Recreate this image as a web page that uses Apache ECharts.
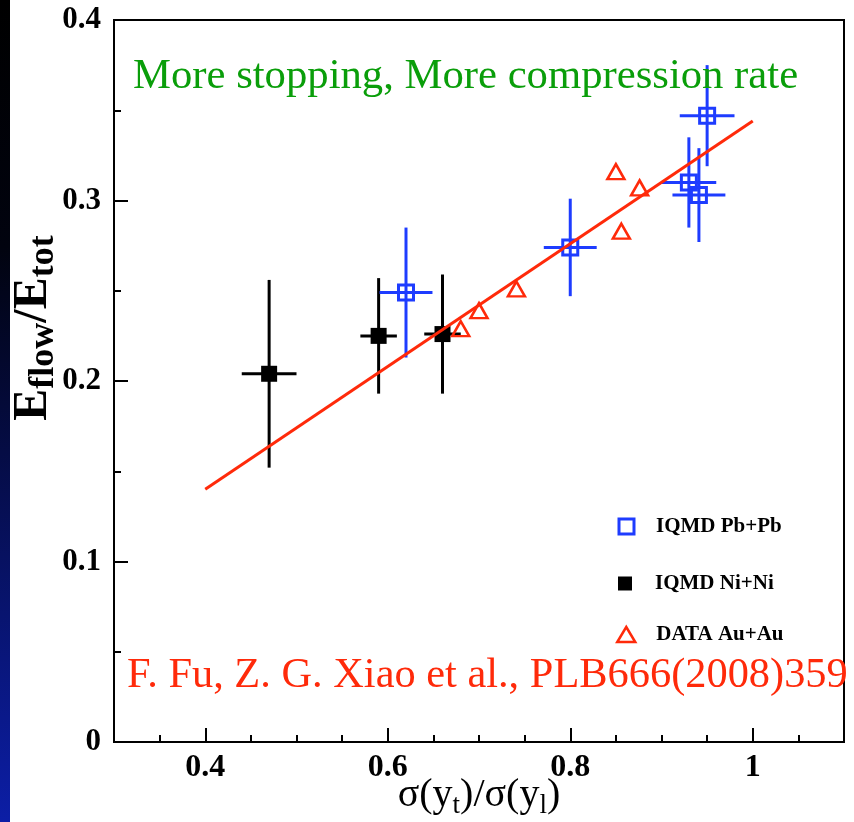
<!DOCTYPE html>
<html>
<head>
<meta charset="utf-8">
<script src="https://cdn.jsdelivr.net/npm/echarts@6/dist/echarts.min.js"></script>
<style>
  html, body { margin: 0; padding: 0; background: #ffffff; }
  #chart { width: 854px; height: 822px; }
</style>
</head>
<body>
<div id="chart"></div>
<script>
// IQMD Pb+Pb: centre values and symmetric errors
const pbX    = [0.620, 0.800, 0.930, 0.941, 0.950];
const pbY    = [0.249, 0.274, 0.310, 0.303, 0.347];
const pbXErr = [0.029, 0.029, 0.030, 0.029, 0.030];
const pbYErr = [0.036, 0.027, 0.025, 0.026, 0.028];

// IQMD Ni+Ni
const niX    = [0.470, 0.590, 0.660];
const niY    = [0.204, 0.225, 0.226];
const niXErr = [0.030, 0.020, 0.020];
const niYErr = [0.052, 0.032, 0.033];

// DATA Au+Au
const auX = [0.680, 0.700, 0.741, 0.850, 0.856, 0.876];
const auY = [0.229, 0.239, 0.251, 0.316, 0.283, 0.307];

// straight-line fit through all points
const fitX = [0.40, 1.00];
const fitY = [0.140, 0.344];

// axis ticks
const xLabelValues = [0.4, 0.6, 0.8, 1.0];
const yMin = 0, yMax = 0.4, yStep = 0.1;
const xMin = 0.3, xMax = 1.1, xStep = 0.05;

const seriesNames = ['IQMD Pb+Pb', 'IQMD Ni+Ni', 'DATA Au+Au'];

const BLUE = '#1e3cff';
const RED = '#ff2a0a';
const GREEN = '#0a9e0a';
const SERIF = '"Liberation Serif", "DejaVu Serif", serif';

function zip4(a, b, c, d) { return a.map((v, i) => [v, b[i], c[i], d[i]]); }
function zip2(a, b) { return a.map((v, i) => [v, b[i]]); }

// cross-shaped error bars (no caps)
function errorBars(color, width) {
  return function (params, api) {
    const x = api.value(0), y = api.value(1), xe = api.value(2), ye = api.value(3);
    const l = api.coord([x - xe, y]), r = api.coord([x + xe, y]);
    const t = api.coord([x, y + ye]), b = api.coord([x, y - ye]);
    const style = { stroke: color, lineWidth: width };
    return {
      type: 'group',
      children: [
        { type: 'line', shape: { x1: l[0], y1: l[1], x2: r[0], y2: r[1] }, style: style },
        { type: 'line', shape: { x1: t[0], y1: t[1], x2: b[0], y2: b[1] }, style: style }
      ]
    };
  };
}

const legendText = (padLeft) => ({
  fontFamily: SERIF, fontWeight: 'bold', fontSize: 21, color: '#000',
  padding: [0, 0, 0, padLeft]
});

const chart = echarts.init(document.getElementById('chart'), null, { renderer: 'canvas' });

chart.setOption({
  animation: false,
  backgroundColor: '#ffffff',
  grid: {
    left: 114, right: 10, top: 20, bottom: 80,
    show: true, borderColor: '#000', borderWidth: 2,
    backgroundColor: 'rgba(0,0,0,0)',
    outerBoundsMode: 'none'
  },
  legend: [
    {
      data: [{ name: seriesNames[0], icon: 'rect',
               itemStyle: { color: 'rgba(0,0,0,0)', borderColor: BLUE, borderWidth: 3 } }],
      left: 617.5, top: 516, itemWidth: 15, itemHeight: 15, padding: 0,
      selectedMode: false, textStyle: legendText(17)
    },
    {
      data: [{ name: seriesNames[1], icon: 'rect', itemStyle: { color: '#000', borderWidth: 0 } }],
      left: 618, top: 573, itemWidth: 14, itemHeight: 14, padding: 0,
      selectedMode: false, textStyle: legendText(18)
    },
    {
      data: [{ name: seriesNames[2], icon: 'triangle',
               itemStyle: { color: 'rgba(0,0,0,0)', borderColor: RED, borderWidth: 2.5 } }],
      left: 616, top: 624, itemWidth: 18, itemHeight: 15, padding: 0,
      selectedMode: false, textStyle: legendText(16)
    }
  ],
  xAxis: [
    {
      type: 'value', min: xMin, max: xMax, interval: xStep, position: 'bottom',
      axisLine: { show: true, onZero: false, lineStyle: { color: '#000', width: 2 } },
      axisTick: { show: true, inside: true, length: 7, lineStyle: { color: '#000', width: 2 } },
      axisLabel: {
        show: true, customValues: xLabelValues, margin: 10,
        fontFamily: SERIF, fontWeight: 'bold', fontSize: 32, color: '#000'
      },
      splitLine: { show: false },
      name: '{m|σ(y}{s|t}{m|)/σ(y}{s|l}{m|)}',
      nameLocation: 'middle', nameGap: 33, nameMoveOverlap: false,
      nameTextStyle: {
        rich: {
          m: { fontFamily: SERIF, fontSize: 40, color: '#000', lineHeight: 44, verticalAlign: 'top' },
          s: { fontFamily: SERIF, fontSize: 27, color: '#000', lineHeight: 20, verticalAlign: 'bottom' }
        }
      }
    },
    {
      // longer ticks at the labelled positions
      type: 'value', min: xMin, max: xMax, position: 'bottom', offset: 0,
      axisLine: { show: false },
      axisTick: { show: true, inside: true, length: 14, customValues: xLabelValues,
                  lineStyle: { color: '#000', width: 2 } },
      axisLabel: { show: false },
      splitLine: { show: false }
    }
  ],
  yAxis: {
    type: 'value', min: yMin, max: yMax, interval: yStep,
    axisLine: { show: true, onZero: false, lineStyle: { color: '#000', width: 2 } },
    axisTick: { show: true, inside: true, length: 14, lineStyle: { color: '#000', width: 2 } },
    minorTick: { show: true, splitNumber: 2, length: 7, lineStyle: { color: '#000', width: 2 } },
    axisLabel: { margin: 13, fontFamily: SERIF, fontWeight: 'bold', fontSize: 31, color: '#000' },
    splitLine: { show: false },
    minorSplitLine: { show: false }
  },
  series: [
    {
      name: 'Ni+Ni bars', type: 'custom', z: 2,
      data: zip4(niX, niY, niXErr, niYErr), encode: { x: 0, y: 1 },
      renderItem: errorBars('#000', 3), silent: true
    },
    {
      name: 'Pb+Pb bars', type: 'custom', z: 2,
      data: zip4(pbX, pbY, pbXErr, pbYErr), encode: { x: 0, y: 1 },
      renderItem: errorBars(BLUE, 3), silent: true
    },
    {
      name: seriesNames[1], type: 'scatter', z: 3,
      data: zip2(niX, niY), symbol: 'rect', symbolSize: 16,
      itemStyle: { color: '#000', opacity: 1 }
    },
    {
      name: seriesNames[0], type: 'scatter', z: 3,
      data: zip2(pbX, pbY), symbol: 'rect', symbolSize: 15,
      itemStyle: { color: 'rgba(0,0,0,0)', borderColor: BLUE, borderWidth: 3, opacity: 1 }
    },
    {
      name: 'fit', type: 'line', z: 4,
      data: zip2(fitX, fitY), showSymbol: false, symbol: 'none',
      lineStyle: { color: RED, width: 3 }
    },
    {
      name: seriesNames[2], type: 'scatter', z: 5,
      data: zip2(auX, auY), symbol: 'triangle', symbolSize: [17, 15],
      itemStyle: { color: 'rgba(0,0,0,0)', borderColor: RED, borderWidth: 2.5, opacity: 1 }
    }
  ],
  graphic: [
    {
      type: 'rect', left: 0, top: 0, z: -10,
      shape: { width: 10, height: 822 },
      style: {
        fill: new echarts.graphic.LinearGradient(0, 0, 0, 1, [
          { offset: 0, color: '#000000' },
          { offset: 0.3, color: '#01030f' },
          { offset: 0.55, color: '#050c45' },
          { offset: 1, color: '#0c1ea6' }
        ])
      }
    },
    {
      // vertical axis title, E_flow / E_tot
      type: 'text', x: 36, y: 328, rotation: Math.PI / 2, z: 10,
      style: {
        text: '{m|E}{s|flow}{m|/E}{s|tot}',
        align: 'center', verticalAlign: 'middle',
        rich: {
          m: { fontFamily: SERIF, fontWeight: 'bold', fontSize: 48, fill: '#000', lineHeight: 52, verticalAlign: 'top' },
          s: { fontFamily: SERIF, fontWeight: 'bold', fontSize: 36, fill: '#000', lineHeight: 24, verticalAlign: 'bottom' }
        }
      }
    },
    {
      type: 'text', x: 133, y: 77, z: 10,
      style: {
        text: 'More stopping, More compression rate',
        fontFamily: SERIF, fontSize: 42.7, fill: GREEN,
        align: 'left', verticalAlign: 'middle'
      }
    },
    {
      type: 'text', x: 127, y: 676, z: 10,
      style: {
        text: 'F. Fu, Z. G. Xiao et al., PLB666(2008)359',
        fontFamily: SERIF, fontSize: 42.4, fill: RED,
        align: 'left', verticalAlign: 'middle'
      }
    }
  ]
});
</script>
</body>
</html>
